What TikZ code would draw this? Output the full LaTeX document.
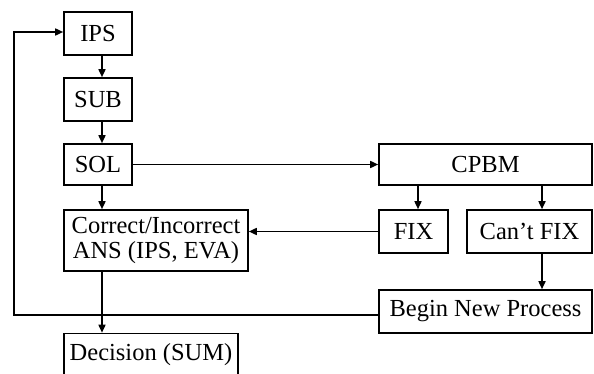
\documentclass[tikz,border=0pt]{standalone}
\usepackage{fontspec}
\setmainfont{Liberation Serif}
\usetikzlibrary{arrows.meta}
\tikzset{
  stepbox/.style={draw, line width=1.6pt, inner sep=0pt, align=center},
  flow/.style={line width=1.6pt, -{Triangle[length=8pt, width=7pt]}},
  plain/.style={line width=1.6pt}
}

\begin{document}
\begin{tikzpicture}[x=1pt, y=-1pt, font=\fontsize{24.5}{28}\selectfont]
			%%%%% START %%%%%
			\useasboundingbox (0, 0) rectangle (594, 374);
			
			\coordinate (spine) at (102, 0);
			\coordinate (fixcol) at (418, 0);
			\coordinate (cancol) at (542, 0);
			\coordinate (looptop) at (14, 32);
			\coordinate (loopbot) at (14, 315);
			
			\node[stepbox, minimum width=68pt, minimum height=43pt] (ips) at (98, 33.5) {IPS};
			\node[stepbox, minimum width=68pt, minimum height=43pt] (sub) at (98, 99.5) {SUB};
			\node[stepbox, minimum width=68pt, minimum height=41pt] (sol) at (98, 164.5) {SOL};
			\node[stepbox, minimum width=184pt, minimum height=61pt] (ans) at (156, 240.5) {Correct/Incorrect\\[-3pt]ANS (IPS, EVA)};
			\node[stepbox, minimum width=174pt, minimum height=43pt] (dec) at (151, 355) {Decision (SUM)};
			
			\node[stepbox, minimum width=213pt, minimum height=41pt] (cpbm) at (485.5, 164.5) {CPBM};
			\node[stepbox, minimum width=69pt, minimum height=43pt] (fix) at (413.5, 231.5) {FIX};
			\node[stepbox, minimum width=125pt, minimum height=43pt] (cantfix) at (529.5, 231.5) {Can’t FIX};
			\node[stepbox, minimum width=213pt, minimum height=43pt] (newproc) at (485.5, 311.5) {Begin New Process};
			
			\draw[flow] (ips.south -| spine) -- (sub.north -| spine);
			\draw[flow] (sub.south -| spine) -- (sol.north -| spine);
			\draw[flow] (sol.south -| spine) -- (ans.north -| spine);
			\draw[flow] (ans.south -| spine) -- (dec.north -| spine);
			
			\draw[flow] (sol.east) -- (cpbm.west);
			\draw[flow] (cpbm.south -| fixcol) -- (fix.north -| fixcol);
			\draw[flow] (cpbm.south -| cancol) -- (cantfix.north -| cancol);
			\draw[flow] (cantfix.south -| cancol) -- (newproc.north -| cancol);
			\draw[flow] (fix.west) -- (fix.west -| ans.east);
			
			\draw[flow] (newproc.west |- loopbot) -- (loopbot) -- (looptop) -- (ips.west |- looptop);
			
			%%%%% END %%%%%
\end{tikzpicture}
\end{document}
